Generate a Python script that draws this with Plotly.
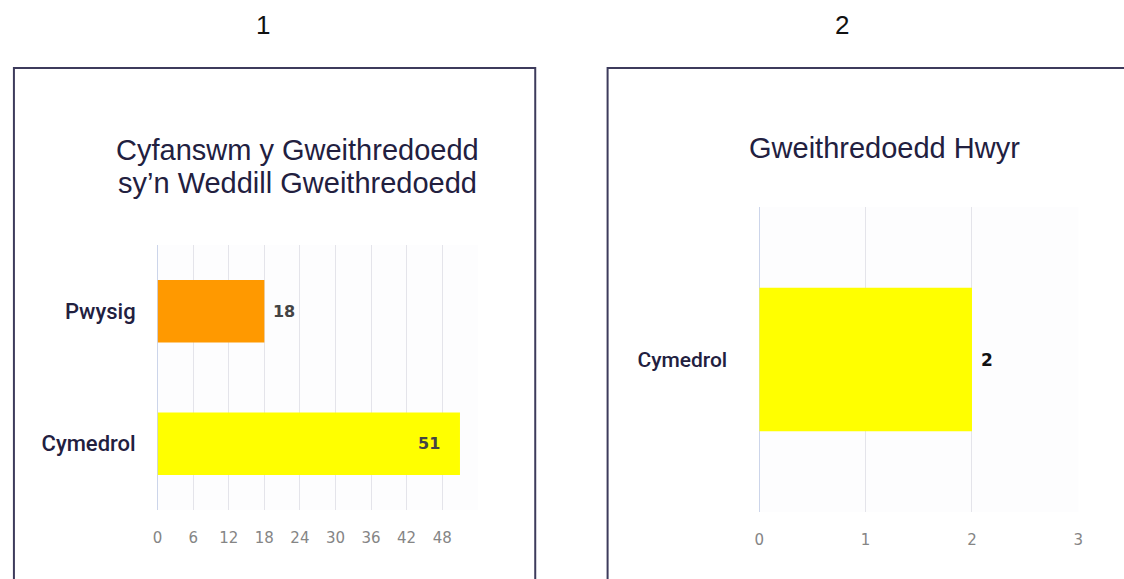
import plotly.graph_objects as go

# ---- data ----
panel_labels = ["1", "2"]
left_title_lines = ["Cyfanswm y Gweithredoedd", "sy’n Weddill Gweithredoedd"]
left_categories = ["Pwysig", "Cymedrol"]
left_values = [18, 51]
left_colors = ["#FF9900", "#FFFF00"]
left_tickvals = [0, 6, 12, 18, 24, 30, 36, 42, 48, 54]
left_ticktext = ["0", "6", "12", "18", "24", "30", "36", "42", "48", ""]

right_title = "Gweithredoedd Hwyr"
right_categories = ["Cymedrol"]
right_values = [2]
right_colors = ["#FFFF00"]
right_tickvals = [0, 1, 2, 3]
right_ticktext = ["0", "1", "2", "3"]

W, H = 1124, 579
FONT = "Liberation Sans, Arial, Helvetica, sans-serif"
NAVY = "#22203f"
NB = "\u00a0"


def px(x):
    return x / W


def py(y):
    return 1 - y / H


fig = go.Figure()

fig.add_trace(go.Bar(
    x=left_values, y=left_categories, orientation="h",
    marker=dict(color=left_colors, line=dict(width=0)),
    texttemplate=[NB + "%{x}", "%{x}" + NB * 3],
    textposition=["outside", "inside"],
    insidetextanchor="end",
    textfont=dict(family="DejaVu Sans", size=16, color="#444444", weight="bold"),
    cliponaxis=False,
    width=0.47,
    xaxis="x", yaxis="y", showlegend=False, hoverinfo="skip",
))

fig.add_trace(go.Bar(
    x=right_values, y=right_categories, orientation="h",
    marker=dict(color=right_colors, line=dict(width=0)),
    texttemplate=NB + "%{x}",
    textposition="outside",
    textfont=dict(family="DejaVu Sans", size=17, color="#111111", weight="bold"),
    cliponaxis=False,
    width=0.47,
    xaxis="x2", yaxis="y2", showlegend=False, hoverinfo="skip",
))

grid = "#e4e4ea"
zero = "#ccd5ea"
tickfont = dict(family="DejaVu Sans", size=15, color="#858585")
catfont = dict(family="Roboto, Liberation Sans, Arial", size=22, color=NAVY, weight=500)

fig.update_layout(
    width=W, height=H,
    margin=dict(l=0, r=0, t=0, b=0),
    paper_bgcolor="white",
    plot_bgcolor="#fdfdfe",
    font=dict(family=FONT),
    hovermode=False,
    xaxis=dict(domain=[px(154), px(477)], range=[0, 54], tickvals=left_tickvals,
               ticktext=left_ticktext, showgrid=True, gridcolor=grid,
               zeroline=True, zerolinecolor=zero, zerolinewidth=1,
               tickfont=tickfont, ticks="outside", ticklen=14, tickcolor="rgba(0,0,0,0)",
               anchor="y", fixedrange=True),
    yaxis=dict(domain=[py(510), py(245)], autorange="reversed",
               categoryorder="array", categoryarray=left_categories,
               tickfont=catfont,
               ticklabelstandoff=21, showgrid=False, anchor="x", fixedrange=True),
    xaxis2=dict(domain=[px(761), px(1083)], range=[0, 3], tickvals=right_tickvals,
                ticktext=right_ticktext, showgrid=True, gridcolor=grid,
                zeroline=True, zerolinecolor=zero, zerolinewidth=1,
                tickfont=tickfont, ticks="outside", ticklen=14, tickcolor="rgba(0,0,0,0)",
                anchor="y2", fixedrange=True),
    yaxis2=dict(domain=[py(512), py(207)],
                tickfont=dict(family="Roboto, Liberation Sans, Arial", size=21,
                              color=NAVY, weight=500),
                ticklabelstandoff=31, showgrid=False, anchor="x2", fixedrange=True),
    bargap=0.5,
)

# panel borders
for x0, x1 in [(9, 535), (608, 1140)]:
    fig.add_shape(type="rect", xref="paper", yref="paper",
                  x0=px(x0), x1=px(x1), y0=py(600), y1=py(68),
                  line=dict(color="#3d3b5c", width=2), fillcolor="rgba(0,0,0,0)",
                  layer="above")

# panel numbers
for lab, x in zip(panel_labels, [260, 845]):
    fig.add_annotation(text=lab, x=px(x), y=py(25), xref="paper", yref="paper",
                       xanchor="center", yanchor="middle",
                       showarrow=False, font=dict(family=FONT, size=26, color="#111111"))

# chart titles
for line, y in zip(left_title_lines, [150, 183]):
    fig.add_annotation(text=line, x=px(295), y=py(y), xref="paper", yref="paper",
                       xanchor="center", yanchor="middle",
                       showarrow=False, align="center",
                       font=dict(family=FONT, size=29, color=NAVY))
fig.add_annotation(text=right_title, x=px(887), y=py(148), xref="paper", yref="paper",
                   xanchor="center", yanchor="middle",
                   showarrow=False, align="center",
                   font=dict(family=FONT, size=29, color=NAVY))

fig.write_html(
    "out.html",
    config={"displayModeBar": False, "staticPlot": True},
    post_script="document.body.style.margin='0';document.body.style.overflow='hidden';",
)
